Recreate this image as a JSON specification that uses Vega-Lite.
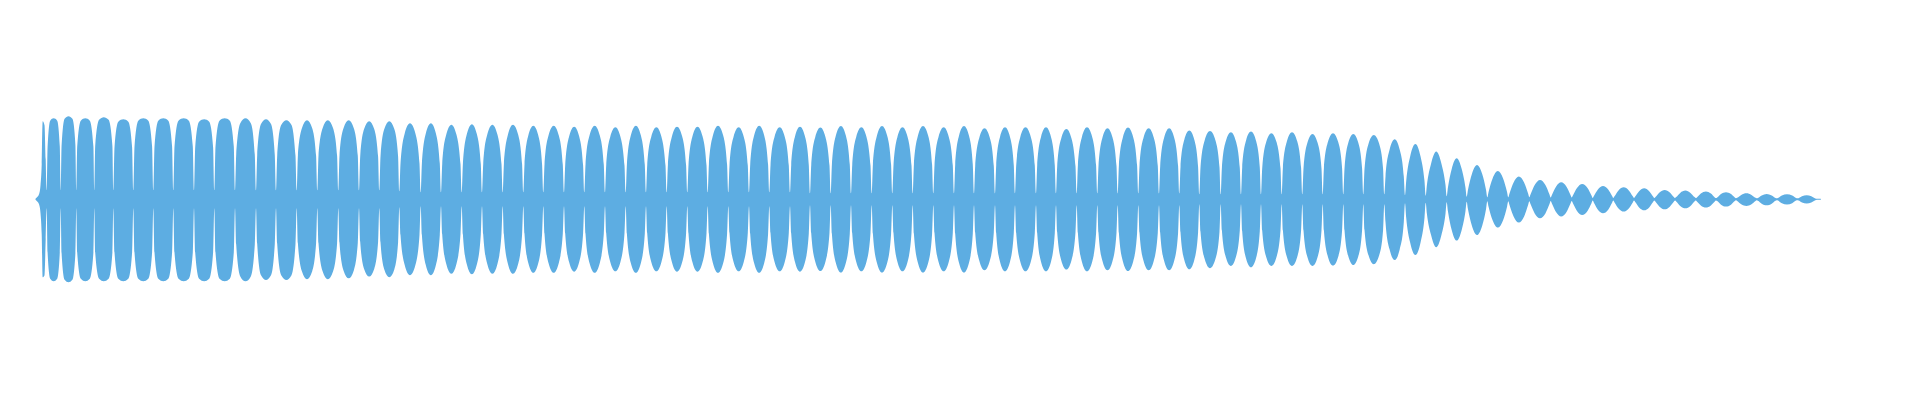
{
  "$schema": "https://vega.github.io/schema/vega-lite/v6.json",
  "width": 1920,
  "height": 400,
  "padding": 0,
  "autosize": {"type": "fit", "contains": "padding"},
  "data": {
    "values": [
      {"t":35.5,"hi":0.5,"lo":-0.5},{"t":37,"hi":2,"lo":-2},{"t":39,"hi":5,"lo":-5},{"t":40.5,"hi":14,"lo":-14},
      {"t":41.7,"hi":35,"lo":-35},{"t":42.7,"hi":78,"lo":-78},{"t":44.5,"hi":74,"lo":-76},{"t":45.7,"hi":40,"lo":-40},
      {"t":46.7,"hi":9,"lo":-9},{"t":47.6,"hi":52.7,"lo":-53.3},{"t":50.2,"hi":78.6,"lo":-79.5},{"t":53.7,"hi":81,"lo":-82},{"t":57.2,"hi":78.6,"lo":-79.5},{"t":59.8,"hi":52.7,"lo":-53.3},
      {"t":60.7,"hi":9,"lo":-9},{"t":61.6,"hi":54,"lo":-54},{"t":64.6,"hi":80.5,"lo":-80.5},{"t":68.5,"hi":83,"lo":-83},{"t":72.4,"hi":80.5,"lo":-80.5},{"t":75.4,"hi":54,"lo":-54},
      {"t":76.3,"hi":9,"lo":-9},{"t":77.2,"hi":52.7,"lo":-53.3},{"t":80.8,"hi":78.6,"lo":-79.5},{"t":85.3,"hi":81,"lo":-82},{"t":89.8,"hi":78.6,"lo":-79.5},{"t":93.4,"hi":52.7,"lo":-53.3},
      {"t":94.3,"hi":9,"lo":-9},{"t":95.2,"hi":53.3,"lo":-53.3},{"t":99.1,"hi":79.5,"lo":-79.5},{"t":103.8,"hi":82,"lo":-82},{"t":108.6,"hi":79.5,"lo":-79.5},{"t":112.4,"hi":53.3,"lo":-53.3},
      {"t":113.3,"hi":9,"lo":-9},{"t":114.5,"hi":52,"lo":-53.3},{"t":118.3,"hi":77.6,"lo":-79.5},{"t":123.3,"hi":80,"lo":-82},{"t":128.3,"hi":77.6,"lo":-79.5},{"t":132.1,"hi":52,"lo":-53.3},
      {"t":133.3,"hi":9,"lo":-9},{"t":134.5,"hi":52.7,"lo":-53.3},{"t":138.3,"hi":78.6,"lo":-79.5},{"t":143.3,"hi":81,"lo":-82},{"t":148.3,"hi":78.6,"lo":-79.5},{"t":152.1,"hi":52.7,"lo":-53.3},
      {"t":153.3,"hi":9,"lo":-9},{"t":154.5,"hi":52.7,"lo":-53.3},{"t":158.3,"hi":78.6,"lo":-79.5},{"t":163.3,"hi":81,"lo":-82},{"t":168.3,"hi":78.6,"lo":-79.5},{"t":172.1,"hi":52.7,"lo":-53.3},
      {"t":173.3,"hi":9,"lo":-9},{"t":174.5,"hi":52.7,"lo":-53.3},{"t":178.5,"hi":78.6,"lo":-79.5},{"t":183.7,"hi":81,"lo":-82},{"t":188.8,"hi":78.6,"lo":-79.5},{"t":192.8,"hi":52.7,"lo":-53.3},
      {"t":194,"hi":9,"lo":-9},{"t":195.2,"hi":52,"lo":-53.3},{"t":199.1,"hi":77.6,"lo":-79.5},{"t":204.2,"hi":80,"lo":-82},{"t":209.2,"hi":77.6,"lo":-79.5},{"t":213.1,"hi":52,"lo":-53.3},
      {"t":214.3,"hi":9,"lo":-9},{"t":215.5,"hi":52.7,"lo":-53.3},{"t":219.5,"hi":78.6,"lo":-79.5},{"t":224.7,"hi":81,"lo":-82},{"t":229.8,"hi":78.6,"lo":-79.5},{"t":233.8,"hi":52.7,"lo":-53.3},
      {"t":235,"hi":9,"lo":-9},{"t":236.2,"hi":44.6,"lo":-45.1},{"t":240.3,"hi":76.1,"lo":-77.1},{"t":245.5,"hi":81,"lo":-82},{"t":250.8,"hi":76.1,"lo":-77.1},{"t":254.8,"hi":44.6,"lo":-45.1},
      {"t":256,"hi":9,"lo":-9},{"t":257.2,"hi":44,"lo":-44.4},{"t":261,"hi":75.2,"lo":-75.9},{"t":266,"hi":80,"lo":-80.7},{"t":271,"hi":75.2,"lo":-75.9},{"t":274.8,"hi":44,"lo":-44.4},
      {"t":276,"hi":9,"lo":-9},{"t":277.2,"hi":43.5,"lo":-44.4},{"t":281.2,"hi":74.3,"lo":-75.9},{"t":286.4,"hi":79,"lo":-80.7},{"t":291.5,"hi":74.3,"lo":-75.9},{"t":295.5,"hi":43.5,"lo":-44.4},
      {"t":296.7,"hi":9,"lo":-9},{"t":297.9,"hi":43.5,"lo":-44},{"t":301.9,"hi":71.1,"lo":-72},{"t":307,"hi":79,"lo":-80},{"t":312.2,"hi":71.1,"lo":-72},{"t":316.1,"hi":43.5,"lo":-44},
      {"t":317.3,"hi":9,"lo":-9},{"t":318.5,"hi":43.5,"lo":-44},{"t":322.6,"hi":71.1,"lo":-72},{"t":327.8,"hi":79,"lo":-80},{"t":333.1,"hi":71.1,"lo":-72},{"t":337.1,"hi":43.5,"lo":-44},
      {"t":338.3,"hi":9,"lo":-9},{"t":339.5,"hi":43.5,"lo":-43.5},{"t":343.5,"hi":71.1,"lo":-71.1},{"t":348.7,"hi":79,"lo":-79},{"t":353.8,"hi":71.1,"lo":-71.1},{"t":357.8,"hi":43.5,"lo":-43.5},
      {"t":359,"hi":9,"lo":-9},{"t":360.2,"hi":42.9,"lo":-42.5},{"t":364.1,"hi":70.2,"lo":-69.6},{"t":369.2,"hi":78,"lo":-77.3},{"t":374.2,"hi":70.2,"lo":-69.6},{"t":378.1,"hi":42.9,"lo":-42.5},
      {"t":379.3,"hi":9,"lo":-9},{"t":380.5,"hi":42.9,"lo":-42.9},{"t":384.3,"hi":70.2,"lo":-70.2},{"t":389.3,"hi":78,"lo":-78},{"t":394.3,"hi":70.2,"lo":-70.2},{"t":398.1,"hi":42.9,"lo":-42.9},
      {"t":399.3,"hi":8,"lo":-8},{"t":400.5,"hi":35.7,"lo":-35.7},{"t":404.7,"hi":65.8,"lo":-65.8},{"t":410,"hi":76,"lo":-76},{"t":415.4,"hi":65.8,"lo":-65.8},{"t":419.5,"hi":35.7,"lo":-35.7},
      {"t":420.7,"hi":7,"lo":-7},{"t":421.9,"hi":35.7,"lo":-35.7},{"t":425.8,"hi":65.8,"lo":-65.8},{"t":430.9,"hi":76,"lo":-76},{"t":435.9,"hi":65.8,"lo":-65.8},{"t":439.8,"hi":35.7,"lo":-35.7},
      {"t":441,"hi":7,"lo":-7},{"t":442.2,"hi":35,"lo":-35},{"t":446.2,"hi":64.5,"lo":-64.5},{"t":451.4,"hi":74.5,"lo":-74.5},{"t":456.5,"hi":64.5,"lo":-64.5},{"t":460.5,"hi":35,"lo":-35},
      {"t":461.7,"hi":7,"lo":-7},{"t":462.9,"hi":35.3,"lo":-35.3},{"t":466.8,"hi":65,"lo":-65},{"t":471.9,"hi":75,"lo":-75},{"t":476.9,"hi":65,"lo":-65},{"t":480.8,"hi":35.3,"lo":-35.3},
      {"t":482,"hi":7,"lo":-7},{"t":483.2,"hi":35,"lo":-35},{"t":487.2,"hi":64.5,"lo":-64.5},{"t":492.4,"hi":74.5,"lo":-74.5},{"t":497.5,"hi":64.5,"lo":-64.5},{"t":501.5,"hi":35,"lo":-35},
      {"t":502.7,"hi":7,"lo":-7},{"t":503.9,"hi":35,"lo":-35},{"t":507.9,"hi":64.5,"lo":-64.5},{"t":513,"hi":74.5,"lo":-74.5},{"t":518.2,"hi":64.5,"lo":-64.5},{"t":522.1,"hi":35,"lo":-35},
      {"t":523.3,"hi":7,"lo":-7},{"t":524.5,"hi":34.5,"lo":-34.5},{"t":528.3,"hi":63.7,"lo":-63.7},{"t":533.3,"hi":73.5,"lo":-73.5},{"t":538.3,"hi":63.7,"lo":-63.7},{"t":542.1,"hi":34.5,"lo":-34.5},
      {"t":543.3,"hi":7,"lo":-7},{"t":544.5,"hi":34.5,"lo":-34.5},{"t":548.5,"hi":63.7,"lo":-63.7},{"t":553.7,"hi":73.5,"lo":-73.5},{"t":558.8,"hi":63.7,"lo":-63.7},{"t":562.8,"hi":34.5,"lo":-34.5},
      {"t":564,"hi":7,"lo":-7},{"t":565.2,"hi":34.1,"lo":-34.1},{"t":569.1,"hi":62.8,"lo":-62.8},{"t":574.2,"hi":72.5,"lo":-72.5},{"t":579.2,"hi":62.8,"lo":-62.8},{"t":583.1,"hi":34.1,"lo":-34.1},
      {"t":584.3,"hi":7,"lo":-7},{"t":585.5,"hi":34.5,"lo":-34.5},{"t":589.5,"hi":63.7,"lo":-63.7},{"t":594.7,"hi":73.5,"lo":-73.5},{"t":599.8,"hi":63.7,"lo":-63.7},{"t":603.8,"hi":34.5,"lo":-34.5},
      {"t":605,"hi":7,"lo":-7},{"t":606.2,"hi":33.8,"lo":-33.8},{"t":610.2,"hi":62.4,"lo":-62.4},{"t":615.4,"hi":72,"lo":-72},{"t":620.5,"hi":62.4,"lo":-62.4},{"t":624.5,"hi":33.8,"lo":-33.8},
      {"t":625.7,"hi":7,"lo":-7},{"t":626.9,"hi":34.5,"lo":-34.5},{"t":630.8,"hi":63.7,"lo":-63.7},{"t":635.9,"hi":73.5,"lo":-73.5},{"t":640.9,"hi":63.7,"lo":-63.7},{"t":644.8,"hi":34.5,"lo":-34.5},
      {"t":646,"hi":7,"lo":-7},{"t":647.2,"hi":33.8,"lo":-33.8},{"t":651.2,"hi":62.4,"lo":-62.4},{"t":656.4,"hi":72,"lo":-72},{"t":661.5,"hi":62.4,"lo":-62.4},{"t":665.5,"hi":33.8,"lo":-33.8},
      {"t":666.7,"hi":7,"lo":-7},{"t":667.9,"hi":34.1,"lo":-34.1},{"t":671.9,"hi":62.8,"lo":-62.8},{"t":677,"hi":72.5,"lo":-72.5},{"t":682.2,"hi":62.8,"lo":-62.8},{"t":686.1,"hi":34.1,"lo":-34.1},
      {"t":687.3,"hi":7,"lo":-7},{"t":688.5,"hi":34.1,"lo":-34.1},{"t":692.4,"hi":62.8,"lo":-62.8},{"t":697.5,"hi":72.5,"lo":-72.5},{"t":702.6,"hi":62.8,"lo":-62.8},{"t":706.5,"hi":34.1,"lo":-34.1},
      {"t":707.7,"hi":7,"lo":-7},{"t":708.9,"hi":34.5,"lo":-34.5},{"t":712.9,"hi":63.7,"lo":-63.7},{"t":718,"hi":73.5,"lo":-73.5},{"t":723.2,"hi":63.7,"lo":-63.7},{"t":727.1,"hi":34.5,"lo":-34.5},
      {"t":728.3,"hi":7,"lo":-7},{"t":729.5,"hi":33.8,"lo":-33.8},{"t":733.5,"hi":62.4,"lo":-62.4},{"t":738.7,"hi":72,"lo":-72},{"t":743.8,"hi":62.4,"lo":-62.4},{"t":747.8,"hi":33.8,"lo":-33.8},
      {"t":749,"hi":7,"lo":-7},{"t":750.2,"hi":34.5,"lo":-34.5},{"t":754.1,"hi":63.7,"lo":-63.7},{"t":759.2,"hi":73.5,"lo":-73.5},{"t":764.2,"hi":63.7,"lo":-63.7},{"t":768.1,"hi":34.5,"lo":-34.5},
      {"t":769.3,"hi":7,"lo":-7},{"t":770.5,"hi":33.8,"lo":-33.8},{"t":774.5,"hi":62.4,"lo":-62.4},{"t":779.7,"hi":72,"lo":-72},{"t":784.8,"hi":62.4,"lo":-62.4},{"t":788.8,"hi":33.8,"lo":-33.8},
      {"t":790,"hi":7,"lo":-7},{"t":791.2,"hi":34.1,"lo":-34.1},{"t":795,"hi":62.8,"lo":-62.8},{"t":800,"hi":72.5,"lo":-72.5},{"t":805,"hi":62.8,"lo":-62.8},{"t":808.8,"hi":34.1,"lo":-34.1},
      {"t":810,"hi":6,"lo":-6},{"t":811.2,"hi":33.7,"lo":-33.7},{"t":815.2,"hi":62.1,"lo":-62.1},{"t":820.4,"hi":71.7,"lo":-71.7},{"t":825.5,"hi":62.1,"lo":-62.1},{"t":829.5,"hi":33.7,"lo":-33.7},
      {"t":830.7,"hi":6,"lo":-6},{"t":831.9,"hi":34.5,"lo":-34.5},{"t":835.8,"hi":63.5,"lo":-63.5},{"t":840.9,"hi":73.3,"lo":-73.3},{"t":845.9,"hi":63.5,"lo":-63.5},{"t":849.8,"hi":34.5,"lo":-34.5},
      {"t":851,"hi":6,"lo":-6},{"t":852.2,"hi":33.8,"lo":-33.8},{"t":856.2,"hi":62.4,"lo":-62.4},{"t":861.4,"hi":72,"lo":-72},{"t":866.5,"hi":62.4,"lo":-62.4},{"t":870.5,"hi":33.8,"lo":-33.8},
      {"t":871.7,"hi":6,"lo":-6},{"t":872.9,"hi":34.5,"lo":-34.5},{"t":876.9,"hi":63.5,"lo":-63.5},{"t":882,"hi":73.3,"lo":-73.3},{"t":887.2,"hi":63.5,"lo":-63.5},{"t":891.1,"hi":34.5,"lo":-34.5},
      {"t":892.3,"hi":6,"lo":-6},{"t":893.5,"hi":33.8,"lo":-33.8},{"t":897.4,"hi":62.4,"lo":-62.4},{"t":902.5,"hi":72,"lo":-72},{"t":907.6,"hi":62.4,"lo":-62.4},{"t":911.5,"hi":33.8,"lo":-33.8},
      {"t":912.7,"hi":6,"lo":-6},{"t":913.9,"hi":34.5,"lo":-34.5},{"t":917.9,"hi":63.5,"lo":-63.5},{"t":923,"hi":73.3,"lo":-73.3},{"t":928.2,"hi":63.5,"lo":-63.5},{"t":932.1,"hi":34.5,"lo":-34.5},
      {"t":933.3,"hi":6,"lo":-6},{"t":934.5,"hi":33.8,"lo":-33.8},{"t":938.5,"hi":62.4,"lo":-62.4},{"t":943.7,"hi":72,"lo":-72},{"t":948.8,"hi":62.4,"lo":-62.4},{"t":952.8,"hi":33.8,"lo":-33.8},
      {"t":954,"hi":6,"lo":-6},{"t":955.2,"hi":34.5,"lo":-34.5},{"t":959,"hi":63.5,"lo":-63.5},{"t":964,"hi":73.3,"lo":-73.3},{"t":969,"hi":63.5,"lo":-63.5},{"t":972.8,"hi":34.5,"lo":-34.5},
      {"t":974,"hi":6,"lo":-6},{"t":975.2,"hi":33.4,"lo":-33.4},{"t":979.3,"hi":61.5,"lo":-61.5},{"t":984.5,"hi":71,"lo":-71},{"t":989.8,"hi":61.5,"lo":-61.5},{"t":993.8,"hi":33.4,"lo":-33.4},
      {"t":995,"hi":6,"lo":-6},{"t":996.2,"hi":33.8,"lo":-33.8},{"t":1000,"hi":62.4,"lo":-62.4},{"t":1005,"hi":72,"lo":-72},{"t":1010,"hi":62.4,"lo":-62.4},{"t":1013.8,"hi":33.8,"lo":-33.8},
      {"t":1015,"hi":6,"lo":-6},{"t":1016.2,"hi":33.8,"lo":-33.8},{"t":1020.3,"hi":62.4,"lo":-62.4},{"t":1025.5,"hi":72,"lo":-72},{"t":1030.8,"hi":62.4,"lo":-62.4},{"t":1034.8,"hi":33.8,"lo":-33.8},
      {"t":1036,"hi":6,"lo":-6},{"t":1037.2,"hi":33.8,"lo":-33.8},{"t":1041,"hi":62.4,"lo":-62.4},{"t":1046,"hi":72,"lo":-72},{"t":1051,"hi":62.4,"lo":-62.4},{"t":1054.8,"hi":33.8,"lo":-33.8},
      {"t":1056,"hi":6,"lo":-6},{"t":1057.2,"hi":33,"lo":-33},{"t":1061.2,"hi":60.9,"lo":-60.9},{"t":1066.4,"hi":70.3,"lo":-70.3},{"t":1071.5,"hi":60.9,"lo":-60.9},{"t":1075.5,"hi":33,"lo":-33},
      {"t":1076.7,"hi":6,"lo":-6},{"t":1077.9,"hi":33.8,"lo":-33.8},{"t":1081.9,"hi":62.4,"lo":-62.4},{"t":1087,"hi":72,"lo":-72},{"t":1092.2,"hi":62.4,"lo":-62.4},{"t":1096.1,"hi":33.8,"lo":-33.8},
      {"t":1097.3,"hi":6,"lo":-6},{"t":1098.5,"hi":33.4,"lo":-33.4},{"t":1102.4,"hi":61.5,"lo":-61.5},{"t":1107.5,"hi":71,"lo":-71},{"t":1112.6,"hi":61.5,"lo":-61.5},{"t":1116.5,"hi":33.4,"lo":-33.4},
      {"t":1117.7,"hi":6,"lo":-6},{"t":1118.9,"hi":33.7,"lo":-33.7},{"t":1122.9,"hi":62.1,"lo":-62.1},{"t":1128,"hi":71.7,"lo":-71.7},{"t":1133.2,"hi":62.1,"lo":-62.1},{"t":1137.1,"hi":33.7,"lo":-33.7},
      {"t":1138.3,"hi":6,"lo":-6},{"t":1139.5,"hi":33.4,"lo":-33.4},{"t":1143.5,"hi":61.5,"lo":-61.5},{"t":1148.7,"hi":71,"lo":-71},{"t":1153.8,"hi":61.5,"lo":-61.5},{"t":1157.8,"hi":33.4,"lo":-33.4},
      {"t":1159,"hi":6,"lo":-6},{"t":1160.2,"hi":33.4,"lo":-33.4},{"t":1164.1,"hi":61.5,"lo":-61.5},{"t":1169.2,"hi":71,"lo":-71},{"t":1174.2,"hi":61.5,"lo":-61.5},{"t":1178.1,"hi":33.4,"lo":-33.4},
      {"t":1179.3,"hi":6,"lo":-6},{"t":1180.5,"hi":32.3,"lo":-32.9},{"t":1184.3,"hi":59.5,"lo":-60.6},{"t":1189.3,"hi":68.7,"lo":-70},{"t":1194.3,"hi":59.5,"lo":-60.6},{"t":1198.1,"hi":32.3,"lo":-32.9},
      {"t":1199.3,"hi":5,"lo":-5},{"t":1200.5,"hi":32.1,"lo":-32.4},{"t":1204.7,"hi":59.1,"lo":-59.8},{"t":1210,"hi":68.3,"lo":-69},{"t":1215.4,"hi":59.1,"lo":-59.8},{"t":1219.5,"hi":32.1,"lo":-32.4},
      {"t":1220.7,"hi":5,"lo":-5},{"t":1221.9,"hi":31.5,"lo":-31.3},{"t":1225.8,"hi":58,"lo":-57.8},{"t":1230.9,"hi":67,"lo":-66.7},{"t":1235.9,"hi":58,"lo":-57.8},{"t":1239.8,"hi":31.5,"lo":-31.3},
      {"t":1241,"hi":5,"lo":-5},{"t":1242.2,"hi":31.8,"lo":-32},{"t":1246,"hi":58.6,"lo":-58.9},{"t":1251,"hi":67.7,"lo":-68},{"t":1256,"hi":58.6,"lo":-58.9},{"t":1259.8,"hi":31.8,"lo":-32},
      {"t":1261,"hi":5,"lo":-5},{"t":1262.2,"hi":31,"lo":-31.3},{"t":1266.2,"hi":57.2,"lo":-57.8},{"t":1271.4,"hi":66,"lo":-66.7},{"t":1276.5,"hi":57.2,"lo":-57.8},{"t":1280.5,"hi":31,"lo":-31.3},
      {"t":1281.7,"hi":5,"lo":-5},{"t":1282.9,"hi":31.5,"lo":-31.3},{"t":1286.9,"hi":58,"lo":-57.8},{"t":1292,"hi":67,"lo":-66.7},{"t":1297.2,"hi":58,"lo":-57.8},{"t":1301.1,"hi":31.5,"lo":-31.3},
      {"t":1302.3,"hi":5,"lo":-5},{"t":1303.5,"hi":30.7,"lo":-31.3},{"t":1307.4,"hi":56.6,"lo":-57.8},{"t":1312.5,"hi":65.3,"lo":-66.7},{"t":1317.6,"hi":56.6,"lo":-57.8},{"t":1321.5,"hi":30.7,"lo":-31.3},
      {"t":1322.7,"hi":5,"lo":-5},{"t":1323.9,"hi":31,"lo":-31.2},{"t":1327.9,"hi":57.2,"lo":-57.4},{"t":1333,"hi":66,"lo":-66.3},{"t":1338.2,"hi":57.2,"lo":-57.4},{"t":1342.1,"hi":31,"lo":-31.2},
      {"t":1343.3,"hi":5,"lo":-5},{"t":1344.5,"hi":30.7,"lo":-30.9},{"t":1348.3,"hi":56.6,"lo":-56.9},{"t":1353.3,"hi":65.3,"lo":-65.7},{"t":1358.3,"hi":56.6,"lo":-56.9},{"t":1362.1,"hi":30.7,"lo":-30.9},
      {"t":1363.3,"hi":5,"lo":-5},{"t":1364.5,"hi":30.2,"lo":-30.6},{"t":1368.6,"hi":55.7,"lo":-56.3},{"t":1373.8,"hi":64.3,"lo":-65},{"t":1379.1,"hi":55.7,"lo":-56.3},{"t":1383.1,"hi":30.2,"lo":-30.6},
      {"t":1384.3,"hi":5,"lo":-5},{"t":1385.5,"hi":22.8,"lo":-23},{"t":1389.5,"hi":49.2,"lo":-49.8},{"t":1394.7,"hi":60,"lo":-60.7},{"t":1399.8,"hi":49.2,"lo":-49.8},{"t":1403.8,"hi":22.8,"lo":-23},
      {"t":1405,"hi":4,"lo":-4},{"t":1406.2,"hi":18.2,"lo":-18.4},{"t":1410.2,"hi":43.1,"lo":-43.4},{"t":1415.4,"hi":55.3,"lo":-55.7},{"t":1420.5,"hi":43.1,"lo":-43.4},{"t":1424.5,"hi":18.2,"lo":-18.4},
      {"t":1425.7,"hi":3.5,"lo":-3.5},{"t":1426.9,"hi":14.3,"lo":-14.4},{"t":1431,"hi":35.3,"lo":-35.5},{"t":1436.2,"hi":47.7,"lo":-48},{"t":1441.5,"hi":35.3,"lo":-35.5},{"t":1445.5,"hi":14.3,"lo":-14.4},
      {"t":1446.7,"hi":3,"lo":-3},{"t":1447.9,"hi":11.5,"lo":-11.6},{"t":1451.7,"hi":30.3,"lo":-30.6},{"t":1456.7,"hi":41,"lo":-41.3},{"t":1461.7,"hi":30.3,"lo":-30.6},{"t":1465.5,"hi":11.5,"lo":-11.6},
      {"t":1466.7,"hi":2.5,"lo":-2.5},{"t":1467.9,"hi":9,"lo":-9.4},{"t":1471.9,"hi":25.4,"lo":-26.4},{"t":1477,"hi":34.3,"lo":-35.7},{"t":1482.2,"hi":25.4,"lo":-26.4},{"t":1486.1,"hi":9,"lo":-9.4},
      {"t":1487.3,"hi":2,"lo":-2},{"t":1488.5,"hi":7.1,"lo":-7.1},{"t":1492.6,"hi":20.9,"lo":-20.9},{"t":1497.8,"hi":28.3,"lo":-28.3},{"t":1503.1,"hi":20.9,"lo":-20.9},{"t":1507.1,"hi":7.1,"lo":-7.1},
      {"t":1508.3,"hi":2,"lo":-2},{"t":1509.5,"hi":5.7,"lo":-5.8},{"t":1513.6,"hi":16.8,"lo":-17.2},{"t":1518.8,"hi":22.7,"lo":-23.3},{"t":1524.1,"hi":16.8,"lo":-17.2},{"t":1528.1,"hi":5.7,"lo":-5.8},
      {"t":1529.3,"hi":2,"lo":-2},{"t":1530.5,"hi":4.8,"lo":-4.8},{"t":1534.7,"hi":14.3,"lo":-14.1},{"t":1540,"hi":19.3,"lo":-19},{"t":1545.4,"hi":14.3,"lo":-14.1},{"t":1549.5,"hi":4.8,"lo":-4.8},
      {"t":1550.7,"hi":1.7,"lo":-1.7},{"t":1551.9,"hi":4.3,"lo":-4.3},{"t":1556,"hi":12.6,"lo":-12.8},{"t":1561.2,"hi":17,"lo":-17.3},{"t":1566.5,"hi":12.6,"lo":-12.8},{"t":1570.5,"hi":4.3,"lo":-4.3},
      {"t":1571.7,"hi":1.7,"lo":-1.7},{"t":1572.9,"hi":3.8,"lo":-3.9},{"t":1577,"hi":11.3,"lo":-11.6},{"t":1582.2,"hi":15.3,"lo":-15.7},{"t":1587.5,"hi":11.3,"lo":-11.6},{"t":1591.5,"hi":3.8,"lo":-3.9},
      {"t":1592.7,"hi":1.3,"lo":-1.3},{"t":1593.9,"hi":3.3,"lo":-3.5},{"t":1597.9,"hi":9.8,"lo":-10.4},{"t":1603,"hi":13.3,"lo":-14},{"t":1608.2,"hi":9.8,"lo":-10.4},{"t":1612.1,"hi":3.3,"lo":-3.5},
      {"t":1613.3,"hi":1.3,"lo":-1.3},{"t":1614.5,"hi":3,"lo":-3.1},{"t":1618.5,"hi":8.9,"lo":-9.1},{"t":1623.7,"hi":12,"lo":-12.3},{"t":1628.8,"hi":8.9,"lo":-9.1},{"t":1632.8,"hi":3,"lo":-3.1},
      {"t":1634,"hi":1.3,"lo":-1.3},{"t":1635.2,"hi":2.8,"lo":-2.8},{"t":1639.1,"hi":8.1,"lo":-8.1},{"t":1644.2,"hi":11,"lo":-11},{"t":1649.2,"hi":8.1,"lo":-8.1},{"t":1653.1,"hi":2.8,"lo":-2.8},
      {"t":1654.3,"hi":1.3,"lo":-1.3},{"t":1655.5,"hi":2.3,"lo":-2.5},{"t":1659.5,"hi":6.9,"lo":-7.4},{"t":1664.7,"hi":9.3,"lo":-10},{"t":1669.8,"hi":6.9,"lo":-7.4},{"t":1673.8,"hi":2.3,"lo":-2.5},
      {"t":1675,"hi":1.3,"lo":-1.3},{"t":1676.2,"hi":2.2,"lo":-2.3},{"t":1680.2,"hi":6.4,"lo":-6.7},{"t":1685.4,"hi":8.7,"lo":-9},{"t":1690.5,"hi":6.4,"lo":-6.7},{"t":1694.5,"hi":2.2,"lo":-2.3},
      {"t":1695.7,"hi":1.3,"lo":-1.3},{"t":1696.9,"hi":1.9,"lo":-2.1},{"t":1700.8,"hi":5.7,"lo":-6.1},{"t":1705.9,"hi":7.7,"lo":-8.3},{"t":1710.9,"hi":5.7,"lo":-6.1},{"t":1714.8,"hi":1.9,"lo":-2.1},
      {"t":1716,"hi":1.2,"lo":-1.2},{"t":1717.2,"hi":1.8,"lo":-1.8},{"t":1721,"hi":5.2,"lo":-5.4},{"t":1726,"hi":7,"lo":-7.3},{"t":1731,"hi":5.2,"lo":-5.4},{"t":1734.8,"hi":1.8,"lo":-1.8},
      {"t":1736,"hi":1,"lo":-1},{"t":1737.2,"hi":1.5,"lo":-1.7},{"t":1741.2,"hi":4.4,"lo":-5},{"t":1746.4,"hi":6,"lo":-6.7},{"t":1751.5,"hi":4.4,"lo":-5},{"t":1755.5,"hi":1.5,"lo":-1.7},
      {"t":1756.7,"hi":1,"lo":-1},{"t":1757.9,"hi":1.4,"lo":-1.5},{"t":1761.7,"hi":3.9,"lo":-4.4},{"t":1766.7,"hi":5.3,"lo":-6},{"t":1771.7,"hi":3.9,"lo":-4.4},{"t":1775.5,"hi":1.4,"lo":-1.5},
      {"t":1776.7,"hi":1,"lo":-1},{"t":1777.9,"hi":1.3,"lo":-1.3},{"t":1781.9,"hi":3.7,"lo":-3.9},{"t":1787,"hi":5,"lo":-5.3},{"t":1792.2,"hi":3.7,"lo":-3.9},{"t":1796.1,"hi":1.3,"lo":-1.3},
      {"t":1797.3,"hi":1,"lo":-1},{"t":1798.5,"hi":1.1,"lo":-1.1},{"t":1802,"hi":3,"lo":-3.2},{"t":1806.7,"hi":4,"lo":-4.3},{"t":1811.3,"hi":3,"lo":-3.2},{"t":1814.8,"hi":1.1,"lo":-1.1},
      {"t":1816,"hi":0.6,"lo":-0.6},{"t":1818,"hi":0.5,"lo":-0.5},{"t":1820.7,"hi":0.5,"lo":-0.5},{"t":1821,"hi":0,"lo":0}
    ]
  },
  "mark": {"type": "area", "interpolate": "monotone", "color": "#5DADE2", "opacity": 1},
  "encoding": {
    "x": {"field": "t", "type": "quantitative", "scale": {"domain": [0, 1920], "nice": false, "zero": false}, "axis": null},
    "y": {"field": "hi", "type": "quantitative", "scale": {"domain": [-200.7, 199.3], "nice": false, "zero": false}, "axis": null},
    "y2": {"field": "lo"}
  },
  "config": {
    "view": {"stroke": null},
    "axis": {"grid": false}
  }
}
